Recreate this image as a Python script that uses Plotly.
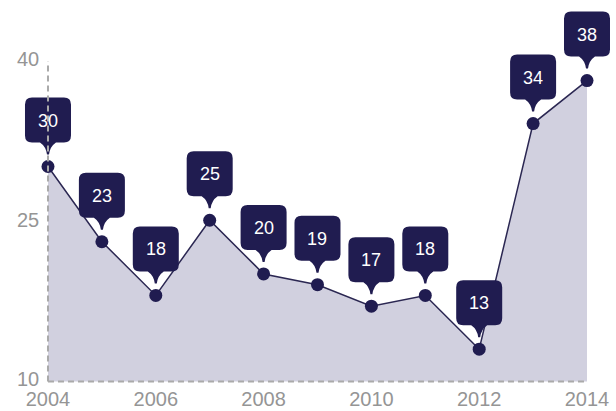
import plotly.graph_objects as go

years = [2004, 2005, 2006, 2007, 2008, 2009, 2010, 2011, 2012, 2013, 2014]
values = [30, 23, 18, 25, 20, 19, 17, 18, 13, 34, 38]
y_ticks = [10, 25, 40]
x_ticks = [2004, 2006, 2008, 2010, 2012, 2014]
baseline = 10

NAVY = "#201c50"
FILL = "#d1d0df"
GRAY = "#959595"
FONT = "Liberation Sans, Arial"

fig = go.Figure()
fig.add_trace(go.Scatter(x=years, y=[baseline] * len(years), mode="lines",
                         line=dict(width=0), hoverinfo="skip", showlegend=False))
fig.add_trace(go.Scatter(x=years, y=values, mode="lines+markers", fill="tonexty",
                         fillcolor=FILL, line=dict(color="#2b2752", width=1.5),
                         marker=dict(color=NAVY, size=13), cliponaxis=False,
                         showlegend=False))

# callout path in pixels relative to the data point (y up)
hw, yb, yt, r, ph, tip = 23, 24, 69, 7, 8, 12
callout = (f"M {-hw+r},{yt} L {hw-r},{yt} Q {hw},{yt} {hw},{yt-r} "
           f"L {hw},{yb+r} Q {hw},{yb} {hw-r},{yb} L {ph},{yb} Q 2,{yb-4} 1,{tip} L -1,{tip} Q -2,{yb-4} {-ph},{yb} "
           f"L {-hw+r},{yb} Q {-hw},{yb} {-hw},{yb+r} L {-hw},{yt-r} Q {-hw},{yt} {-hw+r},{yt} Z")

shapes = []
annotations = []
for xv, yv in zip(years, values):
    shapes.append(dict(type="path", xref="x", yref="y", xsizemode="pixel", ysizemode="pixel",
                       xanchor=xv, yanchor=yv, path=callout, fillcolor=NAVY,
                       line=dict(width=0), layer="above"))
    annotations.append(dict(x=xv, y=yv, xref="x", yref="y", text=str(yv), showarrow=False,
                            yshift=46, font=dict(color="white", size=18, family=FONT)))

for tv in y_ticks:
    annotations.append(dict(x=0, y=tv, xref="paper", yref="y", text=str(tv), showarrow=False,
                            xanchor="left", yanchor="middle", xshift=0,
                            yshift=2 if tv == y_ticks[0] else 0,
                            font=dict(color=GRAY, size=20, family=FONT)))

dash_line = dict(color="#aaaaaa", width=2, dash="6px,4px")
shapes.append(dict(type="line", xref="x", yref="y", x0=years[0], x1=years[0], y0=baseline, y1=39.8,
                   line=dash_line, layer="above"))
shapes.append(dict(type="line", xref="x", yref="y", x0=years[0], x1=years[-1], y0=baseline, y1=baseline,
                   line=dash_line, layer="above"))

fig.update_layout(
    width=616, height=411,
    margin=dict(l=15, r=0, t=0, b=28),
    paper_bgcolor="white", plot_bgcolor="white",
    shapes=shapes, annotations=annotations,
    font=dict(family=FONT, color=GRAY, size=20),
    xaxis=dict(range=[2003.388, 2014.538], tickvals=x_ticks, showgrid=False, zeroline=False,
               showline=False, ticks="", ticklabelstandoff=2,
               tickfont=dict(size=20, color=GRAY, family=FONT)),
    yaxis=dict(range=[9.85, 45.5], tickvals=y_ticks, showgrid=False, zeroline=False,
               showline=False, ticks="", showticklabels=False),
)

fig.write_html("out.html")
